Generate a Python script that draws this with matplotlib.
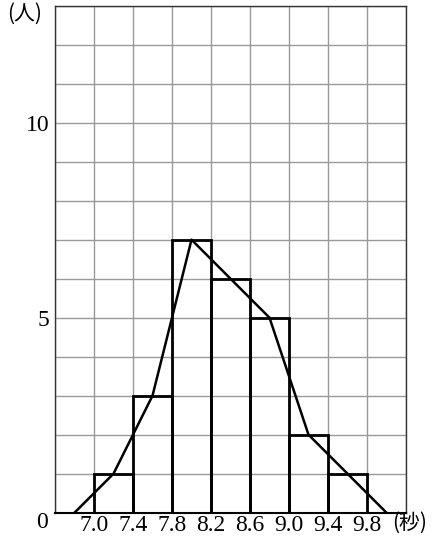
import matplotlib
matplotlib.use('Agg')
import matplotlib.pyplot as plt

# class edges (seconds) and number of people
edges = [7.0, 7.4, 7.8, 8.2, 8.6, 9.0, 9.4, 9.8]
counts = [1, 3, 7, 6, 5, 2, 1]
tick_labels = ['7.0', '7.4', '7.8', '8.2', '8.6', '9.0', '9.4', '9.8']

# frequency polygon: class midpoints plus empty classes at both ends
poly_x = [6.8, 7.2, 7.6, 8.0, 8.4, 8.8, 9.2, 9.6, 10.0]
poly_y = [0, 1, 3, 7, 6, 5, 2, 1, 0]

fig = plt.figure(figsize=(4.34, 5.41), dpi=100)
ax = fig.add_axes([55/434, (541-512.7)/541, (406-55)/434, (512.7-5.7)/541])

ax.set_xlim(6.6, 10.2)
ax.set_ylim(0, 13)

# grid
grid_x = [6.6 + 0.4*i for i in range(10)]
for gx in grid_x:
    ax.axvline(gx, color='#999999', linewidth=1.0, zorder=1)
for gy in range(14):
    ax.axhline(gy, color='#999999', linewidth=1.0, zorder=1)

# histogram
widths = [edges[i+1] - edges[i] for i in range(len(counts))]
ax.bar(edges[:-1], counts, width=widths, align='edge', fill=False,
       edgecolor='black', linewidth=2.0, zorder=3)

ax.plot(poly_x, poly_y, color='black', linewidth=1.8, zorder=4)

for s in ax.spines.values():
    s.set_color('#333333')
    s.set_linewidth(1.0)
ax.spines['bottom'].set_color('black')
ax.spines['bottom'].set_linewidth(1.5)

ax.set_xticks(edges)
ax.set_xticklabels(tick_labels, fontfamily='Liberation Serif', fontsize=17)
ax.set_yticks([5, 10])
ax.set_yticklabels(['5', '10'], fontfamily='Liberation Serif', fontsize=17)
ax.tick_params(length=0, pad=4)
ax.tick_params(axis='x', pad=2)

fig.text(42/434, 1 - 523/541, '0', fontfamily='Liberation Serif', fontsize=17,
         ha='center', va='center')
fig.text(410/434, 1 - 523/541, '(秒)', fontfamily=['Noto Sans CJK JP', 'DejaVu Sans'],
         fontsize=15, ha='center', va='center')
fig.text(25/434, 1 - 14/541, '(人)', fontfamily=['Noto Sans CJK JP', 'DejaVu Sans'],
         fontsize=15, ha='center', va='center')

fig.savefig('out.png', dpi=100)
